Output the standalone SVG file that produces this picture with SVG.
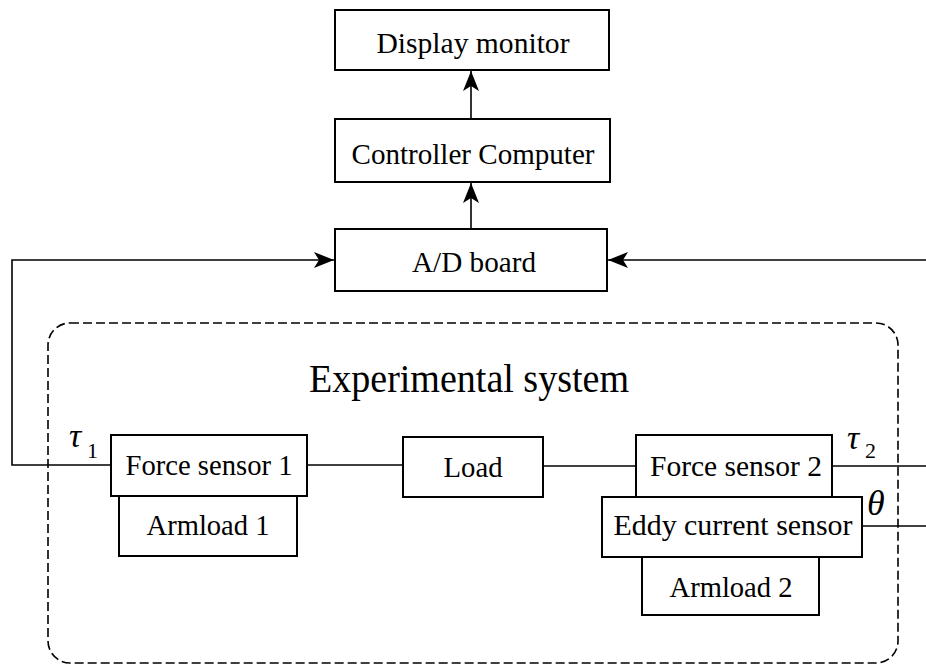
<svg xmlns="http://www.w3.org/2000/svg" width="926" height="666" viewBox="0 0 926 666">
<style>
.box{fill:#fff;stroke:#000;stroke-width:2}
.ln{fill:none;stroke:#000;stroke-width:1.6}
.lbl{font-family:"Liberation Serif","Times New Roman",serif;font-size:30px;fill:#000;text-anchor:middle}
.sym{font-family:"Liberation Serif","Times New Roman",serif;font-style:italic;fill:#000}
.sub{font-family:"Liberation Serif","Times New Roman",serif;fill:#000}
</style>
<defs>
<marker id="ah" markerUnits="userSpaceOnUse" markerWidth="22" markerHeight="18" refX="20" refY="8" orient="auto">
<path d="M0,0 L20,8 L0,16 L5,8 Z" fill="#000"/>
</marker>
</defs>
<rect width="926" height="666" fill="#fff"/>
<g id="connectors">
<line class="ln" x1="471" y1="119" x2="471" y2="71" marker-end="url(#ah)"/>
<line class="ln" x1="471" y1="229" x2="471" y2="183" marker-end="url(#ah)"/>
<polyline class="ln" points="111,465 12,465 12,260 334,260" marker-end="url(#ah)"/>
<line class="ln" x1="926" y1="260" x2="608" y2="260" marker-end="url(#ah)"/>
<line class="ln" x1="307" y1="465" x2="403" y2="465"/>
<line class="ln" x1="543" y1="466" x2="636" y2="466"/>
<line class="ln" x1="832" y1="466" x2="926" y2="466"/>
<line class="ln" x1="862" y1="526" x2="926" y2="526"/>
</g>
<g id="experimental-system">
<rect x="48" y="323" width="850" height="340" rx="22" ry="22" fill="none" stroke="#000" stroke-width="1.6" stroke-dasharray="9,4"/>
<text x="469" y="392" class="lbl" style="font-size:39px" textLength="320" lengthAdjust="spacingAndGlyphs">Experimental system</text>
</g>
<g id="display-monitor">
<rect class="box" x="335" y="10" width="274" height="60"/>
<text class="lbl" x="473" y="53" textLength="193" lengthAdjust="spacingAndGlyphs">Display monitor</text>
</g>
<g id="controller-computer">
<rect class="box" x="335" y="119" width="275" height="63"/>
<text class="lbl" x="473" y="164" textLength="243" lengthAdjust="spacingAndGlyphs">Controller Computer</text>
</g>
<g id="ad-board">
<rect class="box" x="335" y="229" width="272" height="62"/>
<text class="lbl" x="474" y="272" textLength="124" lengthAdjust="spacingAndGlyphs">A/D board</text>
</g>
<g id="armload-1">
<rect class="box" x="119" y="496" width="178" height="60"/>
<text class="lbl" x="208" y="535" textLength="123" lengthAdjust="spacingAndGlyphs">Armload 1</text>
</g>
<g id="force-sensor-1">
<rect class="box" x="111" y="435" width="196" height="61"/>
<text class="lbl" x="209" y="475" textLength="167" lengthAdjust="spacingAndGlyphs">Force sensor 1</text>
</g>
<g id="load">
<rect class="box" x="403" y="437" width="140" height="60"/>
<text class="lbl" x="473" y="477" textLength="59" lengthAdjust="spacingAndGlyphs">Load</text>
</g>
<g id="armload-2">
<rect class="box" x="642" y="556" width="177" height="59"/>
<text class="lbl" x="731" y="597" textLength="123" lengthAdjust="spacingAndGlyphs">Armload 2</text>
</g>
<g id="force-sensor-2">
<rect class="box" x="636" y="435" width="196" height="62"/>
<text class="lbl" x="736" y="476" textLength="172" lengthAdjust="spacingAndGlyphs">Force sensor 2</text>
</g>
<g id="eddy-current-sensor">
<rect class="box" x="602" y="497" width="260" height="60"/>
<text class="lbl" x="733" y="535" textLength="239" lengthAdjust="spacingAndGlyphs">Eddy current sensor</text>
</g>
<g id="signal-labels">
<text class="sym" x="69" y="447" font-size="34">τ</text>
<text class="sub" x="87" y="458" font-size="22">1</text>
<text class="sym" x="847" y="449" font-size="34">τ</text>
<text class="sub" x="865" y="458" font-size="22">2</text>
<text class="sym" x="867" y="515" font-size="36">θ</text>
</g>
</svg>
